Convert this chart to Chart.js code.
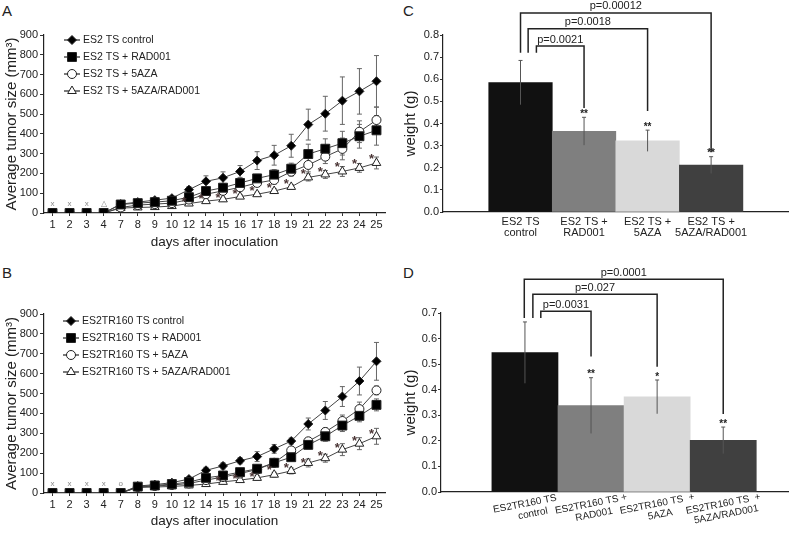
<!DOCTYPE html>
<html>
<head>
<meta charset="utf-8">
<script src="https://cdn.jsdelivr.net/npm/chart.js@4.4.1/dist/chart.umd.min.js"></script>
<style>
body { margin: 0; background: #fff; width: 798px; height: 534px; position: relative; overflow: hidden; font-family: Arial, "Liberation Sans", sans-serif; }
canvas { position: absolute; }
.panel { position: absolute; font-size: 15px; color: #222; line-height: 17px; }
</style>
</head>
<body>
<div class="panel" style="left:2px;top:2px">A</div>
<div class="panel" style="left:2px;top:264px">B</div>
<div class="panel" style="left:403px;top:2px">C</div>
<div class="panel" style="left:403px;top:264px">D</div>
<canvas id="chartA" width="400" height="265" style="left:0;top:0"></canvas>
<canvas id="chartB" width="400" height="269" style="left:0;top:265px"></canvas>
<canvas id="chartC" width="398" height="258" style="left:400px;top:0"></canvas>
<canvas id="chartD" width="398" height="276" style="left:400px;top:258px"></canvas>
<script>
const FONT = 'Arial, "Liberation Sans", sans-serif';
Chart.defaults.font.family = FONT;
Chart.defaults.color = '#222';
Chart.defaults.animation = false;
Chart.defaults.plugins.legend.display = false;
Chart.defaults.plugins.tooltip.enabled = false;

// ---- données courbes (A, B)
const days = ['1', '2', '3', '4', '7', '8', '9', '10', '12', '14', '15', '16', '17', '18', '19', '21', '22', '23', '24', '25'];
const yTicksLine = [0, 100, 200, 300, 400, 500, 600, 700, 800, 900];

const namesA = ['ES2 TS control', 'ES2 TS + RAD001', 'ES2 TS + 5AZA', 'ES2 TS + 5AZA/RAD001'];
const ctrlA  = [0, 0, 0, 0, 45, 55, 65, 75, 118, 160, 178, 210, 265, 292, 340, 447, 502, 568, 615, 666];
const radA   = [0, 0, 0, 0, 43, 50, 55, 62, 80, 111, 128, 152, 175, 194, 224, 298, 325, 353, 388, 418];
const azaA   = [0, 0, 0, 0, 28, 40, 45, 50, 68, 95, 112, 130, 152, 167, 209, 243, 285, 324, 411, 470];
const comboA = [0, 0, 0, 0, 25, 28, 30, 35, 48, 60, 69, 83, 95, 111, 132, 180, 195, 210, 228, 253];
const ctrlAErr  = [0, 0, 0, 0, 5, 8, 10, 10, 15, 28, 30, 30, 45, 50, 58, 78, 88, 120, 115, 130];
const radAErr   = [0, 0, 0, 0, 5, 6, 8, 10, 12, 15, 18, 20, 20, 25, 28, 50, 50, 60, 60, 75];
const azaAErr   = [0, 0, 0, 0, 4, 5, 6, 8, 10, 12, 15, 15, 18, 20, 22, 35, 35, 55, 55, 65];
const comboAErr = [0, 0, 0, 0, 4, 4, 5, 6, 8, 10, 10, 10, 10, 12, 12, 18, 20, 25, 22, 30];
const starDaysA = ['12', '14', '15', '16', '17', '18', '19', '21', '22', '23', '24', '25'];
const starValsA = [71, 83, 91, 108, 125, 140, 158, 209, 220, 248, 260, 288];
const markDaysA = ['1', '2', '3', '4'];
const markTextA = ['x', 'x', 'x', '\u25B3'];

const namesB = ['ES2TR160 TS control', 'ES2TR160 TS + RAD001', 'ES2TR160 TS + 5AZA', 'ES2TR160 TS + 5AZA/RAD001'];
const ctrlB  = [0, 0, 0, 0, 0, 35, 42, 52, 70, 114, 136, 162, 183, 222, 261, 347, 415, 485, 563, 662];
const radB   = [0, 0, 0, 0, 0, 32, 38, 45, 55, 76, 88, 105, 122, 152, 180, 242, 285, 339, 388, 443];
const azaB   = [0, 0, 0, 0, 0, 30, 35, 40, 48, 65, 80, 98, 118, 152, 214, 260, 307, 362, 422, 516];
const comboB = [0, 0, 0, 0, 0, 28, 30, 33, 38, 45, 56, 65, 76, 92, 111, 151, 175, 218, 248, 285];
const ctrlBErr  = [0, 0, 0, 0, 0, 6, 6, 8, 10, 15, 15, 15, 25, 22, 15, 30, 45, 50, 70, 95];
const radBErr   = [0, 0, 0, 0, 0, 5, 5, 6, 8, 15, 12, 12, 15, 15, 18, 20, 25, 30, 30, 30];
const azaBErr   = [0, 0, 0, 0, 0, 5, 5, 6, 8, 12, 12, 12, 15, 15, 15, 15, 20, 30, 35, 22];
const comboBErr = [0, 0, 0, 0, 0, 4, 4, 5, 6, 8, 10, 10, 12, 12, 15, 20, 20, 30, 30, 40];
const starDaysB = ['15', '16', '17', '18', '19', '21', '22', '23', '24', '25'];
const starValsB = [72, 81, 94, 131, 140, 165, 199, 241, 274, 308];
const markDaysB = ['1', '2', '3', '4', '7'];
const markTextB = ['x', 'x', 'x', 'x', 'o'];

// ---- données barres (C, D)
const barPos = [1, 2, 3, 4];
const barColors = ['#111111', '#7f7f7f', '#d9d9d9', '#404040'];
const labelsC = [['ES2 TS', 'control'], ['ES2 TS +', 'RAD001'], ['ES2 TS +', '5AZA'], ['ES2 TS +', '5AZA/RAD001']];
const weightC = [0.585, 0.365, 0.322, 0.212];
const weightCErr = [0.10, 0.063, 0.048, 0.038];
const starsC = ['', '**', '**', '**'];
const pTextC = ['p=0.0021', 'p=0.0018', 'p=0.00012'];
const pFromC = [1.25, 1.12, 1.0];
const pToC = [2, 3, 4];
const pTopC = [0.75, 0.828, 0.90];
const pEndC = [0.47, 0.457, 0.27];

const labelsD = [['ES2TR160 TS', 'control'], ['ES2TR160 TS +', 'RAD001'], ['ES2TR160 TS  +', '5AZA'], ['ES2TR160 TS  +', '5AZA/RAD001']];
const weightD = [0.545, 0.338, 0.372, 0.202];
const weightDErr = [0.12, 0.109, 0.066, 0.052];
const starsD = ['', '**', '*', '**'];
const pTextD = ['p=0.0031', 'p=0.027', 'p=0.0001'];
const pFromD = [1.24, 1.12, 0.99];
const pToD = [2, 3, 4];
const pTopD = [0.707, 0.773, 0.832];
const pEndD = [0.53, 0.49, 0.305];

// ---- plugins
function drawErrors(chart, o) {
    const ctx = chart.ctx, ys = chart.scales.y;
    ctx.save();
    ctx.strokeStyle = o.color;
    ctx.lineWidth = 1;
    chart.data.datasets.forEach((ds, i) => {
        if (!ds.errors) return;
        chart.getDatasetMeta(i).data.forEach((el, j) => {
            const e = ds.errors[j];
            if (!e) return;
            const v = typeof ds.data[j] === 'object' ? ds.data[j].y : ds.data[j];
            const top = ys.getPixelForValue(v + e), bot = ys.getPixelForValue(v - e);
            ctx.beginPath();
            ctx.moveTo(el.x, top); ctx.lineTo(el.x, bot);
            ctx.moveTo(el.x - o.cap, top); ctx.lineTo(el.x + o.cap, top);
            if (o.lowCap) { ctx.moveTo(el.x - o.cap, bot); ctx.lineTo(el.x + o.cap, bot); }
            ctx.stroke();
        });
    });
    ctx.restore();
}
const errorBars = {
    id: 'errorBars',
    beforeDatasetsDraw(chart, args, o) { if (!o.after) drawErrors(chart, o); },
    afterDatasetsDraw(chart, args, o) { if (o.after) drawErrors(chart, o); }
};

const sampleLegend = {
    id: 'sampleLegend',
    afterDraw(chart, args, o) {
        const ctx = chart.ctx;
        ctx.save();
        chart.data.datasets.forEach((ds, i) => {
            const y = o.y + i * o.rowH;
            ctx.strokeStyle = '#222';
            ctx.lineWidth = 1.2;
            ctx.beginPath(); ctx.moveTo(o.x, y); ctx.lineTo(o.x + o.len, y); ctx.stroke();
            ctx.fillStyle = ds.pointBackgroundColor;
            ctx.strokeStyle = ds.pointBorderColor;
            ctx.lineWidth = 1;
            Chart.helpers.drawPoint(ctx, { pointStyle: ds.pointStyle, radius: ds.pointRadius, rotation: 0, borderWidth: 1 }, o.x + o.len / 2, y);
            ctx.fillStyle = '#222';
            ctx.font = '10.5px ' + FONT;
            ctx.textBaseline = 'middle';
            ctx.textAlign = 'left';
            ctx.fillText(ds.label, o.x + o.len + 3, y);
        });
        ctx.restore();
    }
};

const lineNotes = {
    id: 'lineNotes',
    afterDatasetsDraw(chart, args, o) {
        const ctx = chart.ctx, xs = chart.scales.x, ys = chart.scales.y;
        ctx.save();
        ctx.textAlign = 'center';
        ctx.textBaseline = 'middle';
        ctx.font = 'bold 13px ' + FONT;
        ctx.fillStyle = '#4a3535';
        o.starDays.forEach((d, i) => {
            ctx.fillText('*', xs.getPixelForValue(days.indexOf(d)) - 5, ys.getPixelForValue(o.starVals[i]) + 3);
        });
        ctx.font = '8px ' + FONT;
        ctx.fillStyle = '#888';
        o.markDays.forEach((d, i) => {
            ctx.fillText(o.markText[i], xs.getPixelForValue(days.indexOf(d)), ys.getPixelForValue(45));
        });
        ctx.restore();
    }
};

const barNotes = {
    id: 'barNotes',
    afterDatasetsDraw(chart, args, o) {
        const ctx = chart.ctx, xs = chart.scales.x, ys = chart.scales.y;
        const ds = chart.data.datasets[0];
        ctx.save();
        // crochets + p
        ctx.strokeStyle = '#222';
        ctx.lineWidth = 1.5;
        ctx.fillStyle = '#222';
        ctx.font = '11px ' + FONT;
        ctx.textAlign = 'center';
        ctx.textBaseline = 'bottom';
        o.pText.forEach((t, i) => {
            const x1 = xs.getPixelForValue(o.pFrom[i]), x2 = xs.getPixelForValue(o.pTo[i]);
            const yt = ys.getPixelForValue(o.pTop[i]);
            ctx.beginPath();
            ctx.moveTo(x1, ys.getPixelForValue(o.pStart));
            ctx.lineTo(x1, yt);
            ctx.lineTo(x2, yt);
            ctx.lineTo(x2, ys.getPixelForValue(o.pEnd[i]));
            ctx.stroke();
            ctx.fillText(t, (x1 + x2) / 2, yt - 1);
        });
        // étoiles
        ctx.font = 'bold 10px ' + FONT;
        o.stars.forEach((s, i) => {
            if (!s) return;
            ctx.fillText(s, xs.getPixelForValue(barPos[i]), ys.getPixelForValue(ds.data[i].y + ds.errors[i]) + 2);
        });
        // étiquettes inclinées (D)
        if (o.rotLabels) {
            ctx.font = '10px ' + FONT;
            ctx.textBaseline = 'middle';
            o.rotLabels.forEach((lines, i) => {
                ctx.save();
                ctx.translate(xs.getPixelForValue(barPos[i]), chart.chartArea.bottom + 12);
                ctx.rotate(-11 * Math.PI / 180);
                lines.forEach((l, k) => ctx.fillText(l, (i === 0 ? 6 : 1) * k, k * 11));
                ctx.restore();
            });
        }
        ctx.restore();
    }
};

// ---- graphiques courbes
function lineSets(names, series, errs) {
    const styles = [
        { pointStyle: 'rectRot', pointRadius: 4.5, pointBackgroundColor: '#000', order: 1 },
        { pointStyle: 'rect', pointRadius: 6.3, pointBackgroundColor: '#000', order: 0 },
        { pointStyle: 'circle', pointRadius: 4.5, pointBackgroundColor: '#fff', order: 2 },
        { pointStyle: 'triangle', pointRadius: 5, pointBackgroundColor: '#fff', order: 3 }
    ];
    return names.map((n, i) => Object.assign({
        label: n,
        data: series[i],
        errors: errs[i],
        borderColor: '#444',
        borderWidth: 1,
        pointBorderColor: '#222',
        pointBorderWidth: 1,
        tension: 0
    }, styles[i]));
}

function makeLine(id, sets, o) {
    new Chart(document.getElementById(id), {
        type: 'line',
        data: { labels: days, datasets: sets },
        options: {
            responsive: false,
            devicePixelRatio: 1,
            layout: { padding: { top: o.top, right: 15, left: 0, bottom: 0 } },
            scales: {
                x: {
                    offset: true,
                    grid: { display: true, drawOnChartArea: false, tickLength: 3, color: '#333' },
                    border: { color: '#222', width: 1.2 },
                    ticks: { font: { size: 11 }, padding: 2, autoSkip: false, maxRotation: 0 },
                    title: { display: true, text: 'days after inoculation', font: { size: 13.5 }, padding: { top: 0, bottom: o.titlePad } },
                    afterFit: (s) => { s.height = o.xh; }
                },
                y: {
                    min: 0, max: 900,
                    afterBuildTicks: (s) => { s.ticks = yTicksLine.map(v => ({ value: v })); },
                    grid: { display: true, drawOnChartArea: false, tickLength: 4, color: '#333' },
                    border: { color: '#222', width: 1.2 },
                    ticks: { font: { size: 11 }, padding: 2 },
                    title: { display: true, text: 'Average tumor size (mm\u00B3)', font: { size: 15 }, padding: { top: 3, bottom: 0 } },
                    afterFit: (s) => { s.width = 44; }
                }
            },
            plugins: {
                errorBars: { color: '#666', cap: 2.5, lowCap: true, after: false },
                sampleLegend: { x: o.legX, y: o.legY, rowH: 17, len: 16 },
                lineNotes: { starDays: o.starDays, starVals: o.starVals, markDays: o.markDays, markText: o.markText }
            }
        },
        plugins: [errorBars, sampleLegend, lineNotes]
    });
}

const setsA = lineSets(namesA, [ctrlA, radA, azaA, comboA], [ctrlAErr, radAErr, azaAErr, comboAErr]);
const setsB = lineSets(namesB, [ctrlB, radB, azaB, comboB], [ctrlBErr, radBErr, azaBErr, comboBErr]);

makeLine('chartA', setsA, { top: 35, xh: 52, titlePad: 15, legX: 64, legY: 40, starDays: starDaysA, starVals: starValsA, markDays: markDaysA, markText: markTextA });
makeLine('chartB', setsB, { top: 49, xh: 41, titlePad: 5, legX: 63, legY: 56, starDays: starDaysB, starVals: starValsB, markDays: markDaysB, markText: markTextB });

// ---- graphiques barres
function makeBars(id, o) {
    new Chart(document.getElementById(id), {
        type: 'bar',
        data: {
            datasets: [{
                data: barPos.map((x, i) => ({ x: x, y: o.vals[i] })),
                errors: o.errs,
                backgroundColor: barColors,
                borderWidth: 0,
                barPercentage: 1,
                categoryPercentage: 1
            }]
        },
        options: {
            responsive: false,
            devicePixelRatio: 1,
            layout: { padding: { top: o.top, right: 10, left: 0, bottom: 0 } },
            scales: {
                x: {
                    type: 'linear',
                    offset: false,
                    min: o.xmin, max: o.xmax,
                    afterBuildTicks: (s) => { s.ticks = barPos.map(v => ({ value: v })); },
                    grid: { display: false, drawTicks: false, offset: false },
                    border: { color: '#222', width: 1.2 },
                    ticks: {
                        display: !o.rotLabels,
                        autoSkip: false, maxRotation: 0, padding: 4,
                        font: { size: 11, lineHeight: 1.0 },
                        callback: (v) => o.labels[barPos.indexOf(v)] || ''
                    },
                    afterFit: (s) => { s.height = o.xh; }
                },
                y: {
                    min: 0, max: o.ymax,
                    ticks: { stepSize: 0.1, font: { size: 11 }, padding: 1, callback: (v) => v.toFixed(1) },
                    grid: { display: true, drawOnChartArea: false, tickLength: 3, color: '#333' },
                    border: { color: '#222', width: 1.2 },
                    title: { display: true, text: 'weight (g)', font: { size: 15 }, padding: { top: 2, bottom: 0 } },
                    afterFit: (s) => { s.width = o.yw; }
                }
            },
            plugins: {
                errorBars: { color: '#555', cap: 2, lowCap: false, after: true },
                barNotes: {
                    pText: o.pText, pFrom: o.pFrom, pTo: o.pTo, pTop: o.pTop, pEnd: o.pEnd, pStart: o.pStart,
                    stars: o.stars, rotLabels: o.rotLabels
                }
            }
        },
        plugins: [errorBars, barNotes]
    });
}

makeBars('chartC', {
    vals: weightC, errs: weightCErr, labels: labelsC, stars: starsC,
    pText: pTextC, pFrom: pFromC, pTo: pToC, pTop: pTopC, pEnd: pEndC, pStart: 0.72,
    top: 35, xh: 46, yw: 43, ymax: 0.8, xmin: -0.22, xmax: 5.21
});
makeBars('chartD', {
    vals: weightD, errs: weightDErr, labels: labelsD, stars: starsD, rotLabels: labelsD,
    pText: pTextD, pFrom: pFromD, pTo: pToD, pTop: pTopD, pEnd: pEndD, pStart: 0.68,
    top: 55, xh: 42, yw: 41, ymax: 0.7, xmin: -0.27, xmax: 4.98
});
</script>
</body>
</html>
